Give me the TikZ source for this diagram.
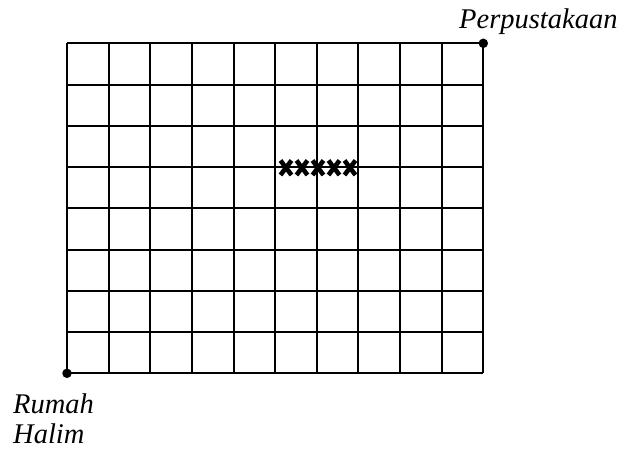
\documentclass[tikz,border=0pt]{standalone}
\usepackage{fontspec}
\setmainfont{Liberation Serif}
\begin{document}
\begin{tikzpicture}[x=1pt,y=-1pt,
  gridline/.style={line width=2pt},
  dotmark/.style={circle,fill=black,inner sep=0pt,minimum size=9.5pt},
  label/.style={font=\fontsize{28.5}{30}\selectfont\itshape,inner sep=0pt,align=left},
  crossmark/.style={line width=4.6pt}]
\useasboundingbox (0,0) rectangle (624,450);
\def\xa{67}\def\ya{43.3}\def\cw{41.63}\def\rh{41.25}
\foreach \i in {0,...,10} {
  \draw[gridline] ({\xa+\i*\cw},\ya) -- ({\xa+\i*\cw},{\ya+8*\rh});
}
\foreach \j in {0,...,8} {
  \draw[gridline] (\xa,{\ya+\j*\rh}) -- ({\xa+10*\cw},{\ya+\j*\rh});
}
\foreach \c in {286,302,318,334,350} {
  \draw[crossmark] (\c-5.5,160.5) -- (\c+5.5,175);
  \draw[crossmark] (\c-5.5,175) -- (\c+5.5,160.5);
}
\node[dotmark] (home) at (\xa,{\ya+8*\rh}) {};
\node[dotmark] (lib) at ({\xa+10*\cw},\ya) {};
\node[label,anchor=base west] (libtext) at (459,28) {Perpustakaan};
\node[label,anchor=base west] (hometext) at (13,413) {Rumah};
\node[label,anchor=base west] (hometext2) at (13,443) {Halim};
\end{tikzpicture}
\end{document}
